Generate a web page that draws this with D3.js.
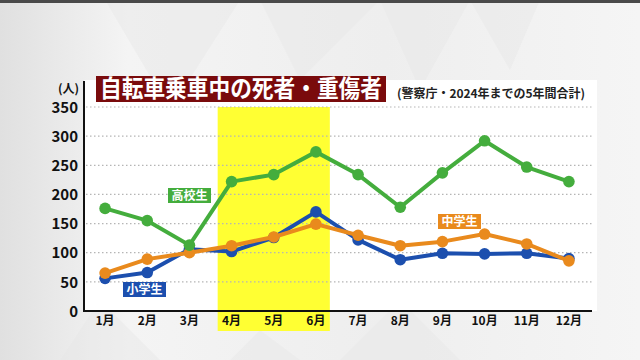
<!DOCTYPE html>
<html><head><meta charset="utf-8">
<script src="https://cdn.jsdelivr.net/npm/d3@7"></script>
<style>html,body{margin:0;padding:0;background:#fff;}svg{display:block;}</style>
</head><body>
<svg id="c" width="640" height="360"></svg>
<script>
const months = ["1月","2月","3月","4月","5月","6月","7月","8月","9月","10月","11月","12月"];
const highSchool = [176, 155, 113, 222, 234, 273, 234, 178, 237, 292, 247, 222];
const juniorHigh = [65, 89, 100, 112, 127, 149, 130, 112, 119, 132, 115, 86];
const elementary = [56, 66, 106, 102, 126, 170, 122, 88, 99, 98, 99, 90];
const yTicks = [0, 50, 100, 150, 200, 250, 300, 350];
const title = "自転車乗車中の死者・重傷者";
const subtitle = "(警察庁・2024年までの5年間合計)";
const unit = "(人)";

const svg = d3.select("#c");
const font = "'Noto Sans CJK JP','Noto Sans',sans-serif";

// background
const defs = svg.append("defs");
const g1 = defs.append("linearGradient").attr("id","bg").attr("x1","0").attr("x2","1").attr("y1","0").attr("y2","0");
g1.append("stop").attr("offset","0").attr("stop-color","#e0e0e0");
g1.append("stop").attr("offset","0.2").attr("stop-color","#f4f4f4");
g1.append("stop").attr("offset","0.6").attr("stop-color","#eeeeee");
g1.append("stop").attr("offset","1").attr("stop-color","#f5f5f5");
svg.append("rect").attr("width",640).attr("height",360).attr("fill","url(#bg)");
const tris = [
  [[105,0],[240,0],[170,110]],
  [[260,0],[380,0],[300,80]],
  [[380,0],[470,0],[420,90]],
  [[470,0],[540,0],[510,70]],
  [[100,300],[60,360],[160,360]],
  [[400,300],[340,360],[460,360]],
  [[260,330],[230,360],[300,360]]
];
svg.selectAll("polygon.tri").data(tris).join("polygon").attr("class","tri")
  .attr("points", d => d.map(p => p.join(",")).join(" "))
  .attr("fill","#e6e6e6").attr("opacity",0.45);
svg.append("rect").attr("x",0).attr("y",0).attr("width",640).attr("height",3).attr("fill","#4a4a4a");

const x = d3.scaleBand().domain(months).range([84, 590]);
const y = d3.scaleLinear().domain([0, 350]).range([311, 107]);
const cx = m => x(m) + x.bandwidth() / 2;

// plot area white
svg.append("rect").attr("x",84).attr("y",80).attr("width",513).attr("height",231).attr("fill","#ffffff");

// highlight
const hl0 = cx("5月") - x.step() * 1.33;
const hl1 = cx("5月") + x.step() * 1.33;
svg.append("rect").attr("x",hl0).attr("y",y(350)).attr("width",hl1-hl0).attr("height",331-y(350)).attr("fill","#ffff33");

// grid
svg.append("g").selectAll("line").data(yTicks.filter(d => d > 0)).join("line")
  .attr("x1",86).attr("x2",593).attr("y1",d => y(d)).attr("y2",d => y(d))
  .attr("stroke","#b5b5b5").attr("stroke-width",1.2).attr("stroke-dasharray","1.5,2.5");

// y axis
const yAxis = svg.append("g").attr("transform","translate(84,0)")
  .call(d3.axisLeft(y).tickValues(yTicks).tickSize(0).tickPadding(6));
yAxis.select(".domain").remove();
yAxis.selectAll("text").attr("font-family",font).attr("font-weight","bold").attr("font-size",15).attr("fill","#111").attr("dy","0.35em");
svg.append("line").attr("x1",84).attr("x2",84).attr("y1",81).attr("y2",312).attr("stroke","#111").attr("stroke-width",2);

// x axis
const xAxis = svg.append("g").attr("transform","translate(0,311)")
  .call(d3.axisBottom(x).tickSize(0).tickPadding(5));
xAxis.select(".domain").remove();
xAxis.selectAll("text").attr("font-family",font).attr("font-weight","bold").attr("font-size",12).attr("fill","#111");
svg.append("line").attr("x1",83).attr("x2",592).attr("y1",311).attr("y2",311).attr("stroke","#111").attr("stroke-width",2);

// unit
svg.append("text").attr("x",79).attr("y",93).attr("text-anchor","end").attr("font-family",font)
  .attr("font-weight","bold").attr("font-size",12).attr("fill","#111").text(unit);

// series
const series = [
  {name:"小学生", values: elementary, color:"#1c4fae", lx:123, ly:282},
  {name:"中学生", values: juniorHigh, color:"#e98a1d", lx:438, ly:214},
  {name:"高校生", values: highSchool, color:"#44ad3d", lx:168, ly:188}
];
const line = d3.line().x((d,i) => cx(months[i])).y(d => y(d));
series.forEach(s => {
  const g = svg.append("g");
  g.append("path").attr("d", line(s.values)).attr("fill","none").attr("stroke",s.color).attr("stroke-width",4).attr("stroke-linejoin","round");
  g.selectAll("circle").data(s.values).join("circle")
    .attr("cx",(d,i) => cx(months[i])).attr("cy",d => y(d)).attr("r",5.8).attr("fill",s.color);
});
series.forEach(s => {
  svg.append("rect").attr("x",s.lx).attr("y",s.ly).attr("width",43).attr("height",15).attr("fill",s.color);
  svg.append("text").attr("x",s.lx+21.5).attr("y",s.ly+12).attr("text-anchor","middle").attr("font-family",font)
    .attr("font-weight","bold").attr("font-size",12).attr("fill","#fff").text(s.name);
});

// title
svg.append("rect").attr("x",96).attr("y",76).attr("width",290).attr("height",26).attr("fill","#7a0b0c");
svg.append("text").attr("x",241).attr("y",97).attr("text-anchor","middle").attr("font-family",font)
  .attr("font-weight","bold").attr("font-size",24).attr("fill","#fff").attr("textLength",282)
  .attr("lengthAdjust","spacingAndGlyphs").text(title);
svg.append("text").attr("x",397).attr("y",98).attr("font-family",font)
  .attr("font-weight","bold").attr("font-size",12).attr("fill","#222").attr("textLength",188).text(subtitle);
</script>
</body></html>
